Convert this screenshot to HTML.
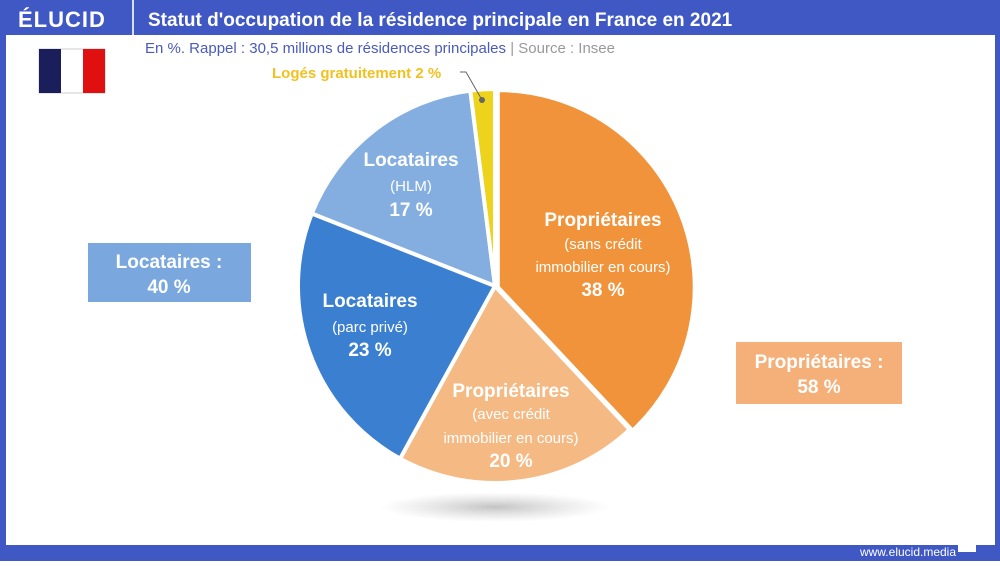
<!DOCTYPE html>
<html><head><meta charset="utf-8"><style>
body{margin:0;width:1000px;height:561px;overflow:hidden;background:#fff;font-family:"Liberation Sans",sans-serif}
</style></head><body>
<svg width="1000" height="561" viewBox="0 0 1000 561" xmlns="http://www.w3.org/2000/svg" font-family="Liberation Sans, sans-serif">
<defs><radialGradient id="sh"><stop offset="0" stop-color="#888" stop-opacity=".5"/><stop offset="1" stop-color="#aaa" stop-opacity="0"/></radialGradient></defs>
<rect x="0" y="0" width="1000" height="561" fill="#3f58c4"/>
<rect x="6" y="35" width="989" height="510" fill="#fff"/>
<rect x="132" y="0" width="2" height="35" fill="#fff" opacity=".8"/>
<text x="18" y="27" fill="#fff" font-size="22" font-weight="bold" letter-spacing="1">ÉLUCID</text>
<text x="148" y="26" fill="#fff" font-size="19" font-weight="bold">Statut d'occupation de la résidence principale en France en 2021</text>
<text x="145" y="53" fill="#4a5bb8" font-size="15">En %. Rappel : 30,5 millions de résidences principales <tspan fill="#999">|  Source : Insee</tspan></text>
<rect x="39" y="49" width="66" height="44" fill="#fff" stroke="#ccc"/>
<rect x="39" y="49" width="22" height="44" fill="#1a1e5a"/>
<rect x="83" y="49" width="22" height="44" fill="#e01010"/>
<text x="908" y="556" fill="#fff" font-size="12" text-anchor="middle">www.elucid.media</text>
<polygon points="958,545 976,539 976,552 958,552" fill="#fff"/>
<ellipse cx="495" cy="507" rx="115" ry="15" fill="url(#sh)"/>
<g stroke="#fff" stroke-width="4" stroke-linejoin="round">
<path d="M497.8,287.1 L497.8,90.1 A197,197 0 0 1 632.6,430.7 Z" fill="#f0933b"/>
<path d="M495,286 L629.8,429.6 A197,197 0 0 1 400.1,458.6 Z" fill="#f5b983"/>
<path d="M495,286 L400.1,458.6 A197,197 0 0 1 311.8,213.5 Z" fill="#3a7fd0"/>
<path d="M495,286 L311.8,213.5 A197,197 0 0 1 470.3,90.6 Z" fill="#85aee0"/>
<path d="M495,286 L470.3,90.6 A197,197 0 0 1 495,89 Z" fill="#eed31c"/>
</g>
<polyline points="460,72 466,72 482,100" fill="none" stroke="#666" stroke-width="1"/>
<circle cx="482" cy="100" r="3" fill="#666"/>
<text x="272" y="78" fill="#f2c11f" font-size="15" font-weight="bold">Logés gratuitement 2 %</text>
<g fill="#fff" font-weight="bold" text-anchor="middle">
<text x="411" y="166" font-size="19">Locataires</text>
<text x="411" y="191" font-size="15" font-weight="normal">(HLM)</text>
<text x="411" y="216" font-size="19">17 %</text>
<text x="603" y="226" font-size="19">Propriétaires</text>
<text x="603" y="249" font-size="15" font-weight="normal">(sans crédit</text>
<text x="603" y="272" font-size="15" font-weight="normal">immobilier en cours)</text>
<text x="603" y="296" font-size="19">38 %</text>
<text x="370" y="307" font-size="19">Locataires</text>
<text x="370" y="332" font-size="15" font-weight="normal">(parc privé)</text>
<text x="370" y="356" font-size="19">23 %</text>
<text x="511" y="397" font-size="19">Propriétaires</text>
<text x="511" y="419" font-size="15" font-weight="normal">(avec crédit</text>
<text x="511" y="443" font-size="15" font-weight="normal">immobilier en cours)</text>
<text x="511" y="467" font-size="19">20 %</text>
</g>
<rect x="88" y="243" width="163" height="59" fill="#7aa8de"/>
<text x="169" y="268" fill="#fff" font-size="19" font-weight="bold" text-anchor="middle">Locataires :</text>
<text x="169" y="293" fill="#fff" font-size="19" font-weight="bold" text-anchor="middle">40 %</text>
<rect x="736" y="342" width="166" height="62" fill="#f5b07a"/>
<text x="819" y="368" fill="#fff" font-size="19" font-weight="bold" text-anchor="middle">Propriétaires :</text>
<text x="819" y="393" fill="#fff" font-size="19" font-weight="bold" text-anchor="middle">58 %</text>
</svg>
</body></html>
